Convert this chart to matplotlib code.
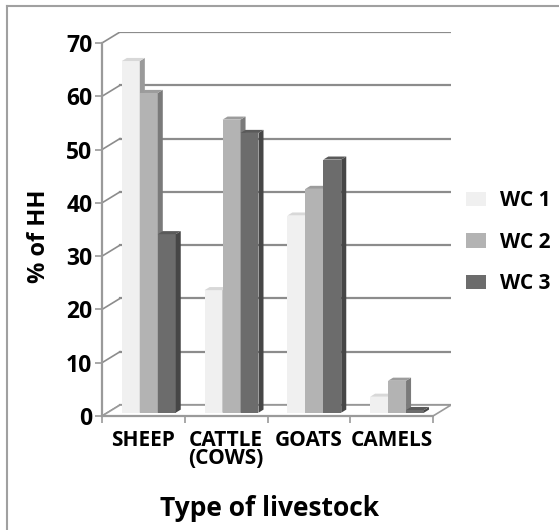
import matplotlib
matplotlib.use("Agg")
import matplotlib.pyplot as plt
from matplotlib.patches import Polygon, Patch
from matplotlib.lines import Line2D

categories = ["SHEEP", "CATTLE\n(COWS)", "GOATS", "CAMELS"]
series_names = ["WC 1", "WC 2", "WC 3"]
wc1 = [66, 23, 37, 3]
wc2 = [60, 55, 42, 6]
wc3 = [33.5, 52.5, 47.5, 0.5]
y_ticks = [0, 10, 20, 30, 40, 50, 60, 70]

front_cols = ["#f0f0f0", "#b3b3b3", "#6c6c6c"]
side_cols = ["#9a9a9a", "#7a7a7a", "#464646"]
top_cols = ["#d8d8d8", "#9c9c9c", "#5a5a5a"]

plt.rcParams["font.family"] = ["Open Sans", "DejaVu Sans"]
plt.rcParams["font.weight"] = "bold"

# fake 3D depth (in data units)
DX, DY = 0.217, 2.06
d_front, d_back = 0.30, 0.58
bar_w = 0.217
grid_col = "#8c8c8c"

fig = plt.figure(figsize=(5.59, 5.30), dpi=100)
ax = fig.add_axes([0.1825, 0.2151, 0.6243, 0.7245])
ax.set_xlim(0, 4 + DX)
ax.set_ylim(0, 70 + DY)

# back wall gridlines and left wall segments
for v in y_ticks:
    ax.plot([DX, 4 + DX], [v + DY, v + DY], color=grid_col, lw=1.6, zorder=1)
    ax.plot([0, DX], [v, v + DY], color=grid_col, lw=1.2, zorder=1)

# floor
ax.add_patch(Polygon([(0, 0), (4, 0), (4 + DX, DY), (DX, DY)], closed=True,
                     facecolor="white", edgecolor="#9a9a9a", lw=1.2, zorder=2))

sf_x, sf_y = d_front * DX, d_front * DY
sb_x, sb_y = d_back * DX, d_back * DY
all_series = [wc1, wc2, wc3]
for i in range(len(categories)):
    for j, vals in enumerate(all_series):
        v = vals[i]
        x0 = i + 0.5 - 1.5 * bar_w + j * bar_w
        z = 3 + i * 3 + j
        ax.bar(x0 + sf_x, v, width=bar_w, bottom=sf_y, align="edge",
               color=front_cols[j], edgecolor="none", zorder=z)
        xr = x0 + bar_w
        ax.add_patch(Polygon([(xr + sf_x, sf_y), (xr + sb_x, sb_y),
                              (xr + sb_x, v + sb_y), (xr + sf_x, v + sf_y)],
                             closed=True, facecolor=side_cols[j], edgecolor="none", zorder=z))
        ax.add_patch(Polygon([(x0 + sf_x, v + sf_y), (xr + sf_x, v + sf_y),
                              (xr + sb_x, v + sb_y), (x0 + sb_x, v + sb_y)],
                             closed=True, facecolor=top_cols[j], edgecolor="none", zorder=z))

for s in ["top", "right"]:
    ax.spines[s].set_visible(False)
ax.spines["left"].set_bounds(0, 70)
ax.spines["bottom"].set_bounds(0, 4)
for s in ["left", "bottom"]:
    ax.spines[s].set_color("#9a9a9a")
    ax.spines[s].set_linewidth(1.6)
    ax.spines[s].set_zorder(20)

ax.set_yticks(y_ticks)
ax.set_yticklabels([str(t) for t in y_ticks], fontsize=16.5, fontweight="bold")
ax.tick_params(axis="y", direction="out", length=5, width=1.2, color="#9a9a9a", pad=2)

ax.set_xticks([0, 1, 2, 3, 4])
ax.set_xticklabels([])
ax.set_xticks([0.5, 1.5, 2.5, 3.5], minor=True)
ax.set_xticklabels(categories, minor=True, fontsize=15, fontweight="bold", linespacing=0.85)
ax.tick_params(axis="x", which="major", direction="out", length=5, width=1.2, color="#9a9a9a")
ax.tick_params(axis="x", which="minor", length=0, pad=10)
ax.patch.set_visible(False)

fig.text(270 / 559, 1 - 508 / 530, "Type of livestock", fontsize=19, fontweight="bold",
         ha="center", va="center")
fig.text(39 / 559, 1 - 236 / 530, "% of HH", fontsize=17, fontweight="bold",
         ha="center", va="center", rotation=90)

handles = [Patch(facecolor=c, edgecolor="none") for c in front_cols]
fig.legend(handles, series_names, loc="center left", bbox_to_anchor=(0.80, 0.543),
           frameon=False, prop={"size": 15, "weight": "bold"},
           handlelength=0.95, handleheight=0.68, handletextpad=0.7, labelspacing=0.98)

# outer frame (left and top only)
fig.add_artist(Line2D([7 / 559, 7 / 559], [0, 1 - 6 / 530], color="#a0a0a0", lw=1.5))
fig.add_artist(Line2D([7 / 559, 1], [1 - 6 / 530, 1 - 6 / 530], color="#a0a0a0", lw=1.5))

fig.savefig("out.png", dpi=100, facecolor="white")
